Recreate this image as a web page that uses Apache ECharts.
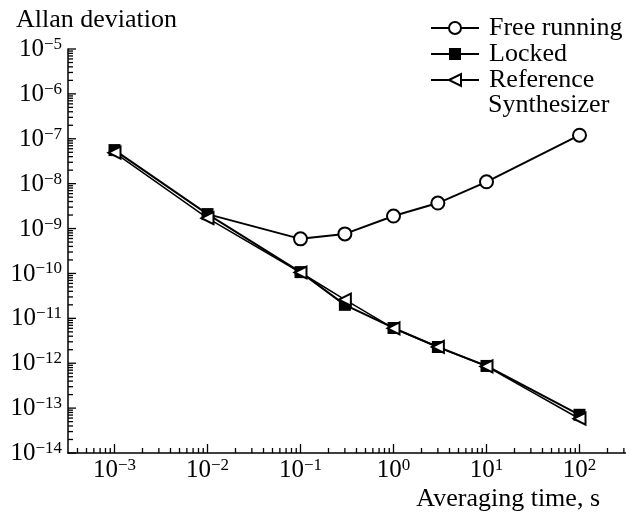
<!DOCTYPE html>
<html>
<head>
<meta charset="utf-8">
<script src="https://cdn.jsdelivr.net/npm/echarts@6/dist/echarts.min.js"></script>
<style>
  html, body { margin: 0; padding: 0; background: #fff; }
</style>
</head>
<body>
<div id="allanChart" style="width: 626px; height: 520px;"></div>
<script>
  // averaging time, s
  const tau = [1e-3, 1e-2, 1e-1, 0.3, 1, 3, 10, 100]
  // Allan deviation
  const freeRunning = [null, 2.1e-9, 5.9e-10, 7.6e-10, 1.9e-9, 3.7e-9, 1.1e-8, 1.2e-7]
  const locked = [5.6e-8, 2.1e-9, 1.07e-10, 2.0e-11, 6.1e-12, 2.3e-12, 8.7e-13, 7.1e-14]
  const reference = [4.9e-8, 1.7e-9, 1.05e-10, 2.6e-11, 6.0e-12, 2.3e-12, 8.5e-13, 5.8e-14]
  const seriesNames = ['Free running', 'Locked', 'Reference Synthesizer']

  // axis ranges and tick decades
  const xMin = Math.pow(10, -3.5), xMax = Math.pow(10, 2.5)
  const yMin = 1e-14, yMax = 1e-5
  const xDecades = [-4, -3, -2, -1, 0, 1, 2]
  const yDecades = [-14, -13, -12, -11, -10, -9, -8, -7, -6, -5]
  const minorSteps = [2, 3, 4, 5, 6, 7, 8, 9]

  const font = 'Liberation Serif'

  function tickList(decades, lo, hi) {
    let out = []
    decades.forEach(function (d) {
      const base = Math.pow(10, d)
      if (base >= lo * 0.999 && base <= hi * 1.001) out.push([base, 1])
      minorSteps.forEach(function (m) {
        const v = m * base
        if (v >= lo && v <= hi) out.push([v, 0])
      })
    })
    return out
  }
  const xTicks = tickList(xDecades, xMin, xMax).map(t => [t[0], yMin, t[1]])
  const yTicks = tickList(yDecades, yMin, yMax).map(t => [xMin, t[0], t[1]])

  function powLabel(value) {
    const l = Math.log10(value)
    const e = Math.round(l)
    if (Math.abs(l - e) > 1e-6) return ''
    return '{b|10}{s|' + (e < 0 ? '\u2212' : '') + Math.abs(e) + '}'
  }
  const labelRich = {
    b: { fontFamily: font, fontSize: 25, color: '#000', lineHeight: 26, verticalAlign: 'bottom' },
    s: { fontFamily: font, fontSize: 17, color: '#000', lineHeight: 26, verticalAlign: 'top', padding: [0, 0, 8, 0] }
  }

  let chart = echarts.init(document.getElementById('allanChart'))
  chart.setOption({
    animation: false,
    backgroundColor: '#fff',
    title: [{
      text: 'Allan deviation',
      left: 16, top: 7, padding: 0,
      textStyle: { fontFamily: font, fontSize: 26, fontWeight: 'normal', color: '#000' }
    }, {
      text: 'Averaging time, s',
      right: 26, top: 486, padding: 0,
      textStyle: { fontFamily: font, fontSize: 26, fontWeight: 'normal', color: '#000' }
    }],
    legend: {
      data: seriesNames,
      orient: 'vertical',
      left: 430, top: 15,
      padding: 0,
      itemGap: 0,
      itemWidth: 48,
      itemHeight: 15,
      formatter: function (name) { return name === 'Reference Synthesizer' ? 'Reference' : name },
      textStyle: { fontFamily: font, fontSize: 26, lineHeight: 26, color: '#000', padding: [0, 0, 0, 5] }
    },
    graphic: [{
      type: 'text', left: 488, top: 92,
      style: { text: 'Synthesizer', font: '26px "Liberation Serif"', fill: '#000' }
    }],
    grid: { left: 68, right: 0, top: 49, bottom: 67 },
    xAxis: {
      type: 'log', logBase: 10, min: xMin, max: xMax,
      axisLine: { lineStyle: { color: '#000', width: 1.5 } },
      axisTick: { show: false },
      splitLine: { show: false },
      axisLabel: { formatter: powLabel, rich: labelRich, margin: 4, showMinLabel: false, showMaxLabel: false }
    },
    yAxis: {
      type: 'log', logBase: 10, min: yMin, max: yMax, interval: 1,
      axisLine: { show: true, lineStyle: { color: '#000', width: 1.5 } },
      axisTick: { show: false },
      splitLine: { show: false },
      axisLabel: { formatter: powLabel, rich: labelRich, margin: 6 }
    },
    series: [{
      name: 'Free running',
      type: 'line',
      data: tau.map((t, i) => freeRunning[i] == null ? [t, null]
        : (i === 1 ? { value: [t, freeRunning[i]], symbol: 'none' } : [t, freeRunning[i]])),
      connectNulls: false,
      symbol: 'emptyCircle', symbolSize: 13,
      lineStyle: { color: '#000', width: 2 },
      itemStyle: { color: '#000', borderWidth: 1.5 },
      z: 2
    }, {
      name: 'Locked',
      type: 'line',
      data: tau.map((t, i) => [t, locked[i]]),
      symbol: 'rect', symbolSize: 12,
      lineStyle: { color: '#000', width: 2 },
      itemStyle: { color: '#000' },
      z: 3
    }, {
      name: 'Reference Synthesizer',
      type: 'line',
      data: tau.map((t, i) => [t, reference[i]]),
      symbol: 'emptyTriangle', symbolSize: 12, symbolRotate: 90,
      lineStyle: { color: '#000', width: 1.5 },
      itemStyle: { color: '#000', borderWidth: 1.5 },
      z: 4
    }, {
      // x axis ticks, inward
      type: 'custom',
      silent: true, clip: false,
      data: xTicks,
      renderItem: function (params, api) {
        const p = api.coord([api.value(0), api.value(1)])
        const len = api.value(2) ? 9 : 5
        return { type: 'line', shape: { x1: p[0], y1: p[1], x2: p[0], y2: p[1] - len },
          style: { stroke: '#000', lineWidth: 1.3 } }
      },
      z: 5
    }, {
      // y axis ticks, inward
      type: 'custom',
      silent: true, clip: false,
      data: yTicks,
      renderItem: function (params, api) {
        const p = api.coord([api.value(0), api.value(1)])
        const len = api.value(2) ? 8 : 5
        return { type: 'line', shape: { x1: p[0], y1: p[1], x2: p[0] + len, y2: p[1] },
          style: { stroke: '#000', lineWidth: 1.3 } }
      },
      z: 5
    }]
  })
</script>
</body>
</html>
